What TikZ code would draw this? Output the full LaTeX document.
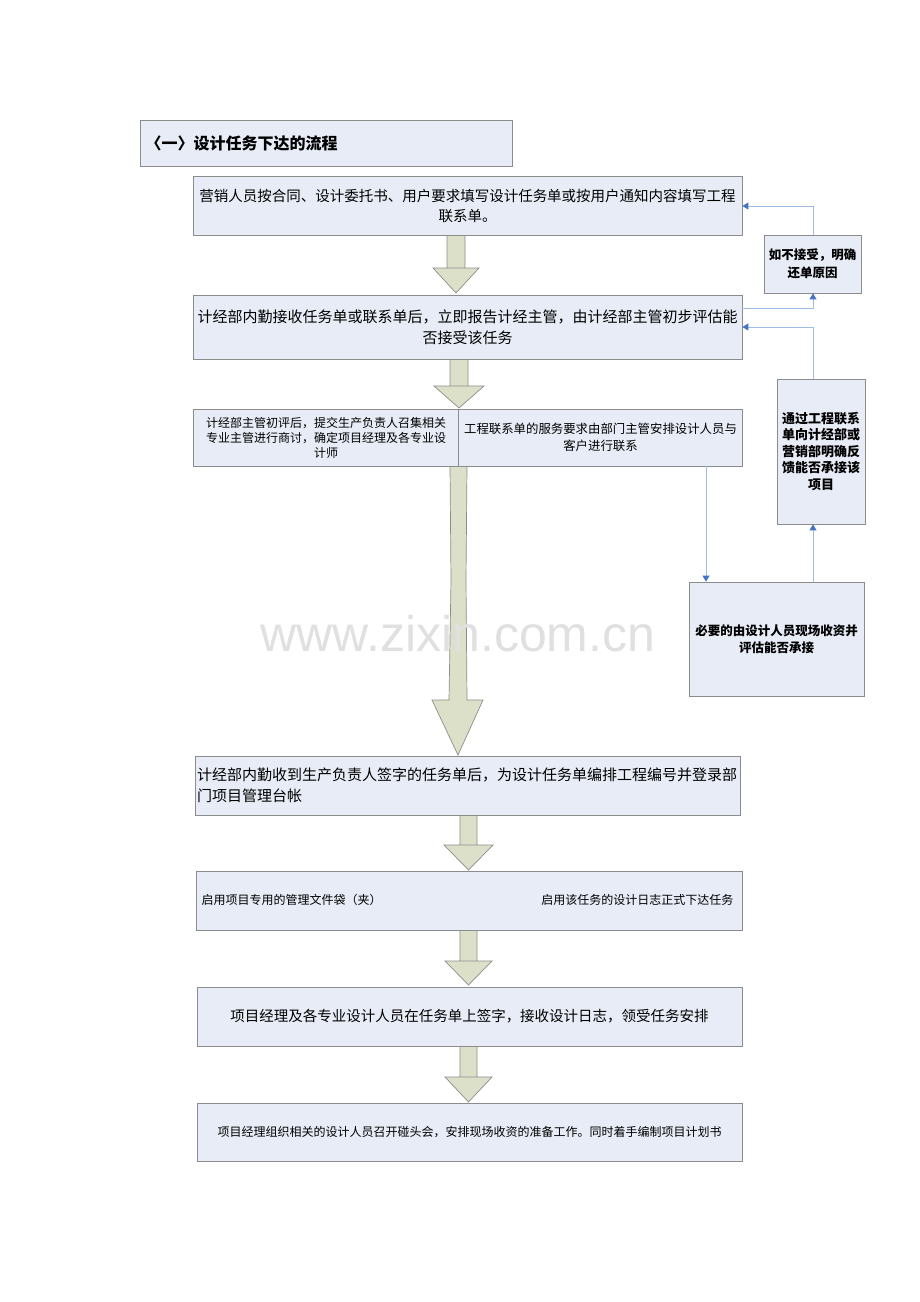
\documentclass[tikz,border=0pt]{standalone}
\usepackage{fontspec}
\setmainfont{Noto Sans CJK SC}
\newfontfamily\wm{Liberation Sans}
\XeTeXlinebreaklocale "zh"
\XeTeXlinebreakskip=0pt
\usetikzlibrary{arrows.meta}
\definecolor{boxfill}{HTML}{E7ECF6}
\definecolor{boxline}{HTML}{8C8C8C}
\definecolor{arrfill}{HTML}{DDE0C8}
\definecolor{conn}{HTML}{9DBCE6}
\definecolor{tipc}{HTML}{4472C4}
\tikzset{
 box/.style={draw=boxline,fill=boxfill,line width=0.8pt,inner sep=2pt,align=flush center,text=black},
 conn/.style={draw=conn,line width=0.9pt,-{Triangle[length=6pt,width=7pt,fill=tipc,color=tipc]}},
 bigarr/.style={draw=boxline,fill=arrfill,line width=0.7pt},
}
\newcommand{\downarr}[6]{\draw[bigarr] (#1,#3)--(#2,#3)--(#2,#4)--(#6,#4)--({(#1+#2)/2},#5)--({#1+#2-#6},#4)--(#1,#4)--cycle;}
\begin{document}
\begin{tikzpicture}[x=1pt,y=-1pt]
\useasboundingbox (0,0) rectangle (920,1302);
% title
\node[box,minimum width=372pt,minimum height=46pt,anchor=north west] (title) at (140,120) {};
\node[anchor=west,font=\bfseries\fontsize{16}{18}\selectfont] (titletext) at (142,143) {〈一〉设计任务下达的流程};
% arrows
\downarr{447}{465}{235}{268}{293}{433}
\downarr{450}{468}{359}{386}{408}{434}
\draw[bigarr] (450,466)--(467,466)--(466,580)--(467,700)--(483,700)--(458,755)--(432,700)--(449,700)--(451,580)--cycle;
\downarr{460}{477}{815}{845}{870}{444}
\downarr{460}{477}{930}{961}{985}{445}
\downarr{460}{477}{1046}{1077}{1102}{445}
% boxes
\node[box,minimum width=549pt,minimum height=59pt,text width=545pt,font=\fontsize{14.5}{20}\selectfont] (b1) at (467.5,205.5) {营销人员按合同、设计委托书、用户要求填写设计任务单或按用户通知内容填写工程联系单。};
\node[box,minimum width=549pt,minimum height=64pt,text width=545pt,font=\fontsize{15}{21}\selectfont] (b2) at (467.5,327) {计经部内勤接收任务单或联系单后，立即报告计经主管，由计经部主管初步评估能否接受该任务};
\node[box,minimum width=266pt,minimum height=57pt,text width=250pt,font=\fontsize{12}{15}\selectfont] (b3a) at (326,437.5) {计经部主管初评后，提交生产负责人召集相关专业主管进行商讨，确定项目经理及各专业设计师};
\node[box,minimum width=283pt,minimum height=57pt,text width=280pt,font=\fontsize{12.4}{17}\selectfont] (b3b) at (600.5,437.5) {工程联系单的服务要求由部门主管安排设计人员与客户进行联系};
\node[box,minimum width=545pt,minimum height=59pt,text width=541pt,align=flush left,font=\fontsize{15}{21}\selectfont] (b4) at (467.5,785.5) {计经部内勤收到生产负责人签字的任务单后，为设计任务单编排工程编号并登录部门项目管理台帐};
\node[box,minimum width=546pt,minimum height=59pt] (b5) at (469,900.5) {};
\node[anchor=west,font=\fontsize{12}{14}\selectfont] (b5l) at (198,900) {启用项目专用的管理文件袋（夹）};
\node[anchor=east,font=\fontsize{12}{14}\selectfont] (b5r) at (737,900) {启用该任务的设计日志正式下达任务};
\node[box,minimum width=545pt,minimum height=59pt,text width=540pt,font=\fontsize{14.5}{19}\selectfont] (b6) at (469.5,1016.5) {项目经理及各专业设计人员在任务单上签字，接收设计日志，领受任务安排};
\node[box,minimum width=545pt,minimum height=58pt,text width=540pt,font=\fontsize{12}{15}\selectfont] (b7) at (469.5,1132) {项目经理组织相关的设计人员召开碰头会，安排现场收资的准备工作。同时着手编制项目计划书};
% side boxes
\node[box,minimum width=97pt,minimum height=58pt,text width=93pt,font=\bfseries\fontsize{12.5}{18}\selectfont] (r1) at (812.5,264) {如不接受，明确还单原因};
\node[box,minimum width=88pt,minimum height=145pt,text width=82pt,font=\bfseries\fontsize{13}{16.5}\selectfont] (r2) at (821,451.5) {通过工程联系单向计经部或营销部明确反馈能否承接该项目};
\node[box,minimum width=175pt,minimum height=114pt,text width=171pt,font=\bfseries\fontsize{12.5}{17}\selectfont] (r3) at (776.5,639) {必要的由设计人员现场收资并评估能否承接};
% connectors
\coordinate (c1) at (813,308);
\draw[conn] (b2.east|-c1) -- (c1) -- (r1.south-|c1);
\coordinate (c2) at (813,206);
\draw[conn] (r1.north-|c2) -- (c2) -- (b1.east|-c2);
\coordinate (c3) at (706,466);
\draw[conn] (c3) -- (c3|-r3.north);
\coordinate (c4) at (813,582);
\draw[conn] (c4) -- (r2.south-|c4);
\coordinate (c5) at (813,327);
\draw[conn] (r2.north-|c5) -- (c5) -- (b2.east|-c5);
% watermark
\node[text=black!12,font=\wm\fontsize{50}{50}\selectfont] (wmk) at (458,634) {www.zixin.com.cn};
\end{tikzpicture}
\end{document}
